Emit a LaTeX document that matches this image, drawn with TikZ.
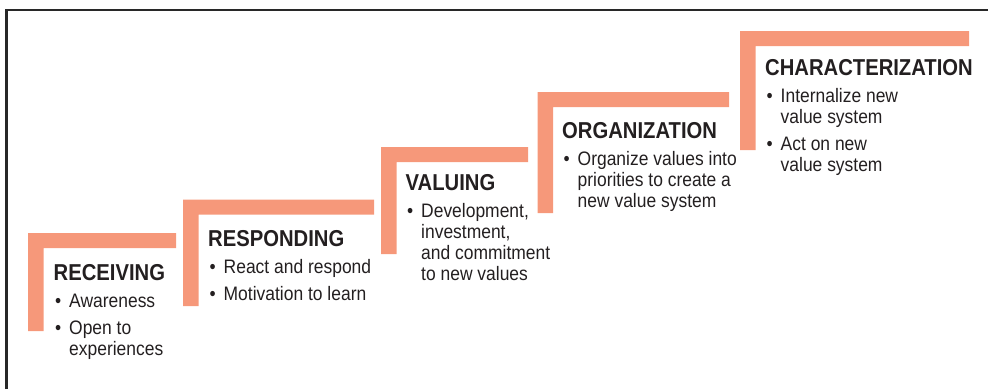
\documentclass[tikz,border=0pt]{standalone}
\usepackage{fontspec}
\setmainfont{Liberation Sans}
\newfontfamily\stairheadfont{Liberation Sans}[FakeStretch=0.88]
\newfontfamily\stairbodyfont{Liberation Sans}[FakeStretch=0.895]
\definecolor{salmon}{RGB}{246,152,122}
\definecolor{ink}{RGB}{35,31,32}
\definecolor{framegray}{RGB}{40,40,40}
\newcommand\headfont{\stairheadfont\bfseries\fontsize{23}{27}\selectfont}
\newcommand\bodyfont{\stairbodyfont\fontsize{19.5}{21}\selectfont}
\newcommand\bul{\makebox[15.5pt][l]{\hspace{1.5pt}•}}
% one stair step: left x, top y, right end of the tread, bottom of the riser
\newcommand\stair[4]{%
  \fill[stairbar] (#1,#2) -- (#3,#2) -- (#3,#2+15) -- (#1+15.5,#2+15)
    -- (#1+15.5,#4) -- (#1,#4) -- cycle;}
\tikzset{
  stairbar/.style={fill=salmon},
  steptext/.style={anchor=base west, inner sep=0pt, text=ink, font=\bodyfont},
  frameline/.style={draw=framegray, line width=2.6pt}
}
\begin{document}
\begin{tikzpicture}[x=1pt,y=-1pt]
\useasboundingbox (0,0) rectangle (988,389);
% open frame: top and left edges only
\draw[frameline] (6.6,389) -- (6.6,9.8) -- (988,9.8);

% the five steps
\stair{28}{233}{176}{331}
\stair{183}{199.5}{374}{306}
\stair{381}{147}{528}{254}
\stair{537.5}{92}{729}{213}
\stair{740}{31}{969}{150}

\node[steptext] (receiving) at (53.5,280) {\begin{tabular}[t]{@{}l@{}l@{}}
\multicolumn{2}{@{}l@{}}{\headfont RECEIVING}\\[6pt]
\bul & Awareness\\[6pt]
\bul & Open to\\
 & experiences
\end{tabular}};

\node[steptext] (responding) at (208,246.7) {\begin{tabular}[t]{@{}l@{}l@{}}
\multicolumn{2}{@{}l@{}}{\headfont RESPONDING}\\[6pt]
\bul & React and respond\\[6pt]
\bul & Motivation to learn
\end{tabular}};

\node[steptext] (valuing) at (405.5,190) {\begin{tabular}[t]{@{}l@{}l@{}}
\multicolumn{2}{@{}l@{}}{\headfont VALUING}\\[6pt]
\bul & Development,\\
 & investment,\\
 & and commitment\\
 & to new values
\end{tabular}};

\node[steptext] (organization) at (562,138.5) {\begin{tabular}[t]{@{}l@{}l@{}}
\multicolumn{2}{@{}l@{}}{\headfont ORGANIZATION}\\[6pt]
\bul & Organize values into\\
 & priorities to create a\\
 & new value system
\end{tabular}};

\node[steptext] (characterization) at (765,75) {\begin{tabular}[t]{@{}l@{}l@{}}
\multicolumn{2}{@{}l@{}}{\headfont CHARACTERIZATION}\\[6pt]
\bul & Internalize new\\
 & value system\\[6pt]
\bul & Act on new\\
 & value system
\end{tabular}};
\end{tikzpicture}
\end{document}
